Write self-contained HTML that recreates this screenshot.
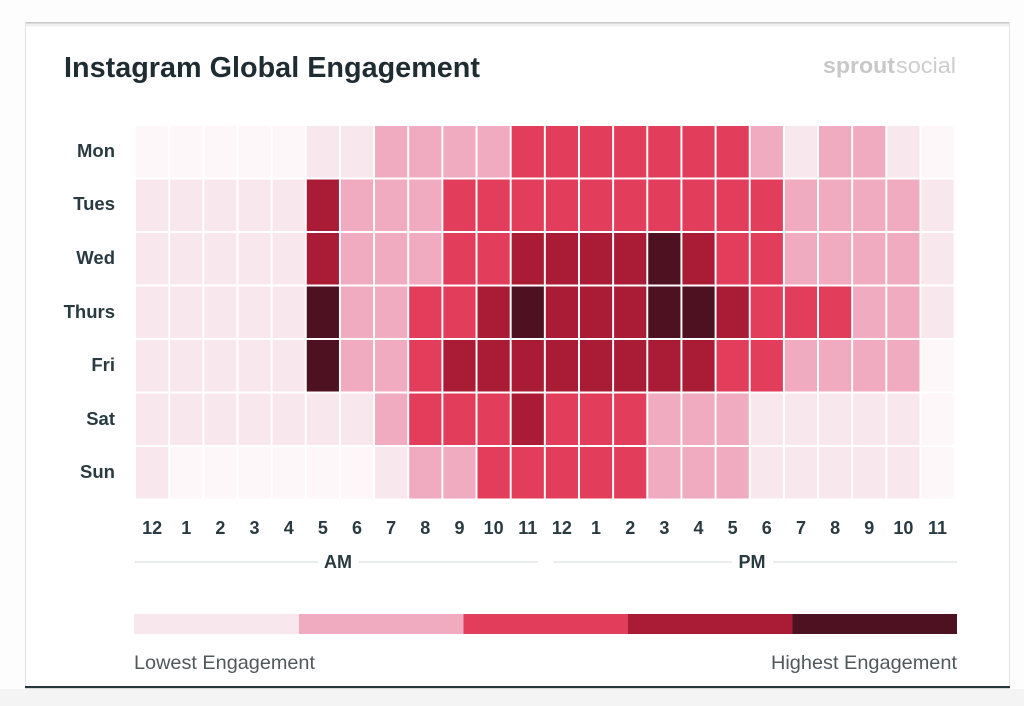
<!DOCTYPE html>
<html>
<head>
<meta charset="utf-8">
<style>
  html,body{margin:0;padding:0;background:#ffffff;}
  body{width:1024px;height:706px;overflow:hidden;}
  svg{display:block;}
  .l0{fill:#fdf7fa;}
  .l1{fill:#f8e8ee;}
  .l2{fill:#f0abc0;}
  .l3{fill:#e23e5c;}
  .l4{fill:#aa1c36;}
  .l5{fill:#4e1121;}
  .day{font-family:"Liberation Sans",sans-serif;font-weight:bold;font-size:18.5px;fill:#2a3a41;text-anchor:end;}
  .tick{font-family:"Liberation Sans",sans-serif;font-weight:bold;font-size:18px;fill:#2a3a41;text-anchor:middle;}
</style>
</head>
<body>
<svg width="1024" height="706" viewBox="0 0 1024 706" xmlns="http://www.w3.org/2000/svg">
  <rect x="0" y="0" width="1024" height="706" fill="#fdfdfd"/>
  <rect x="0" y="689" width="1024" height="17" fill="#f4f4f4"/>
  <!-- card -->
  <rect x="25" y="22" width="985" height="666" fill="#ffffff"/>
  <rect x="25" y="22" width="985" height="1.5" fill="#c9c9c9"/>
  <rect x="25" y="23.5" width="985" height="3" fill="#f0f0f0"/>
  <rect x="25" y="22" width="1" height="666" fill="#e3e3e3"/>
  <rect x="1009" y="22" width="1" height="666" fill="#e3e3e3"/>
  <rect x="25" y="686" width="985" height="2.2" fill="#25363d"/>

  <!-- title -->
  <text x="64" y="77" font-family="'Liberation Sans',sans-serif" font-weight="bold" font-size="29" fill="#1f2c32" textLength="416" lengthAdjust="spacingAndGlyphs">Instagram Global Engagement</text>
  <text x="823" y="73" font-family="'Liberation Sans',sans-serif" font-weight="bold" font-size="22" fill="#c8c8c8" textLength="72" lengthAdjust="spacingAndGlyphs">sprout</text>
  <text x="896" y="73" font-family="'Liberation Sans',sans-serif" font-size="22" fill="#cdcdcd" textLength="60" lengthAdjust="spacingAndGlyphs">social</text>

  <!-- day labels -->
  <text class="day" x="115" y="157">Mon</text>
  <text class="day" x="115" y="210">Tues</text>
  <text class="day" x="115" y="264">Wed</text>
  <text class="day" x="115" y="318">Thurs</text>
  <text class="day" x="115" y="371">Fri</text>
  <text class="day" x="115" y="425">Sat</text>
  <text class="day" x="115" y="478">Sun</text>

  <!-- heatmap -->
  <!-- Mon: 0 0 0 0 0 1 1 2 2 2 2 3 3 3 3 3 3 3 2 1 2 2 1 0 -->
  <g transform="translate(0,126)">
    <rect x="136" width="32.2" height="51.5" class="l0"/>
    <rect x="170.15" width="32.2" height="51.5" class="l0"/>
    <rect x="204.3" width="32.2" height="51.5" class="l0"/>
    <rect x="238.45" width="32.2" height="51.5" class="l0"/>
    <rect x="272.6" width="32.2" height="51.5" class="l0"/>
    <rect x="306.75" width="32.2" height="51.5" class="l1"/>
    <rect x="340.9" width="32.2" height="51.5" class="l1"/>
    <rect x="375.05" width="32.2" height="51.5" class="l2"/>
    <rect x="409.2" width="32.2" height="51.5" class="l2"/>
    <rect x="443.35" width="32.2" height="51.5" class="l2"/>
    <rect x="477.5" width="32.2" height="51.5" class="l2"/>
    <rect x="511.65" width="32.2" height="51.5" class="l3"/>
    <rect x="545.8" width="32.2" height="51.5" class="l3"/>
    <rect x="579.95" width="32.2" height="51.5" class="l3"/>
    <rect x="614.1" width="32.2" height="51.5" class="l3"/>
    <rect x="648.25" width="32.2" height="51.5" class="l3"/>
    <rect x="682.4" width="32.2" height="51.5" class="l3"/>
    <rect x="716.55" width="32.2" height="51.5" class="l3"/>
    <rect x="750.7" width="32.2" height="51.5" class="l2"/>
    <rect x="784.85" width="32.2" height="51.5" class="l1"/>
    <rect x="819" width="32.2" height="51.5" class="l2"/>
    <rect x="853.15" width="32.2" height="51.5" class="l2"/>
    <rect x="887.3" width="32.2" height="51.5" class="l1"/>
    <rect x="921.45" width="32.2" height="51.5" class="l0"/>
  </g>
  <!-- Tue: 1 1 1 1 1 4 2 2 2 3 3 3 3 3 3 3 3 3 3 2 2 2 2 1 -->
  <g transform="translate(0,179.5)">
    <rect x="136" width="32.2" height="51.5" class="l1"/>
    <rect x="170.15" width="32.2" height="51.5" class="l1"/>
    <rect x="204.3" width="32.2" height="51.5" class="l1"/>
    <rect x="238.45" width="32.2" height="51.5" class="l1"/>
    <rect x="272.6" width="32.2" height="51.5" class="l1"/>
    <rect x="306.75" width="32.2" height="51.5" class="l4"/>
    <rect x="340.9" width="32.2" height="51.5" class="l2"/>
    <rect x="375.05" width="32.2" height="51.5" class="l2"/>
    <rect x="409.2" width="32.2" height="51.5" class="l2"/>
    <rect x="443.35" width="32.2" height="51.5" class="l3"/>
    <rect x="477.5" width="32.2" height="51.5" class="l3"/>
    <rect x="511.65" width="32.2" height="51.5" class="l3"/>
    <rect x="545.8" width="32.2" height="51.5" class="l3"/>
    <rect x="579.95" width="32.2" height="51.5" class="l3"/>
    <rect x="614.1" width="32.2" height="51.5" class="l3"/>
    <rect x="648.25" width="32.2" height="51.5" class="l3"/>
    <rect x="682.4" width="32.2" height="51.5" class="l3"/>
    <rect x="716.55" width="32.2" height="51.5" class="l3"/>
    <rect x="750.7" width="32.2" height="51.5" class="l3"/>
    <rect x="784.85" width="32.2" height="51.5" class="l2"/>
    <rect x="819" width="32.2" height="51.5" class="l2"/>
    <rect x="853.15" width="32.2" height="51.5" class="l2"/>
    <rect x="887.3" width="32.2" height="51.5" class="l2"/>
    <rect x="921.45" width="32.2" height="51.5" class="l1"/>
  </g>
  <!-- Wed: 1 1 1 1 1 4 2 2 2 3 3 4 4 4 4 5 4 3 3 2 2 2 2 1 -->
  <g transform="translate(0,233)">
    <rect x="136" width="32.2" height="51.5" class="l1"/>
    <rect x="170.15" width="32.2" height="51.5" class="l1"/>
    <rect x="204.3" width="32.2" height="51.5" class="l1"/>
    <rect x="238.45" width="32.2" height="51.5" class="l1"/>
    <rect x="272.6" width="32.2" height="51.5" class="l1"/>
    <rect x="306.75" width="32.2" height="51.5" class="l4"/>
    <rect x="340.9" width="32.2" height="51.5" class="l2"/>
    <rect x="375.05" width="32.2" height="51.5" class="l2"/>
    <rect x="409.2" width="32.2" height="51.5" class="l2"/>
    <rect x="443.35" width="32.2" height="51.5" class="l3"/>
    <rect x="477.5" width="32.2" height="51.5" class="l3"/>
    <rect x="511.65" width="32.2" height="51.5" class="l4"/>
    <rect x="545.8" width="32.2" height="51.5" class="l4"/>
    <rect x="579.95" width="32.2" height="51.5" class="l4"/>
    <rect x="614.1" width="32.2" height="51.5" class="l4"/>
    <rect x="648.25" width="32.2" height="51.5" class="l5"/>
    <rect x="682.4" width="32.2" height="51.5" class="l4"/>
    <rect x="716.55" width="32.2" height="51.5" class="l3"/>
    <rect x="750.7" width="32.2" height="51.5" class="l3"/>
    <rect x="784.85" width="32.2" height="51.5" class="l2"/>
    <rect x="819" width="32.2" height="51.5" class="l2"/>
    <rect x="853.15" width="32.2" height="51.5" class="l2"/>
    <rect x="887.3" width="32.2" height="51.5" class="l2"/>
    <rect x="921.45" width="32.2" height="51.5" class="l1"/>
  </g>
  <!-- Thu: 1 1 1 1 1 5 2 2 3 3 4 5 4 4 4 5 5 4 3 3 3 2 2 1 -->
  <g transform="translate(0,286.5)">
    <rect x="136" width="32.2" height="51.5" class="l1"/>
    <rect x="170.15" width="32.2" height="51.5" class="l1"/>
    <rect x="204.3" width="32.2" height="51.5" class="l1"/>
    <rect x="238.45" width="32.2" height="51.5" class="l1"/>
    <rect x="272.6" width="32.2" height="51.5" class="l1"/>
    <rect x="306.75" width="32.2" height="51.5" class="l5"/>
    <rect x="340.9" width="32.2" height="51.5" class="l2"/>
    <rect x="375.05" width="32.2" height="51.5" class="l2"/>
    <rect x="409.2" width="32.2" height="51.5" class="l3"/>
    <rect x="443.35" width="32.2" height="51.5" class="l3"/>
    <rect x="477.5" width="32.2" height="51.5" class="l4"/>
    <rect x="511.65" width="32.2" height="51.5" class="l5"/>
    <rect x="545.8" width="32.2" height="51.5" class="l4"/>
    <rect x="579.95" width="32.2" height="51.5" class="l4"/>
    <rect x="614.1" width="32.2" height="51.5" class="l4"/>
    <rect x="648.25" width="32.2" height="51.5" class="l5"/>
    <rect x="682.4" width="32.2" height="51.5" class="l5"/>
    <rect x="716.55" width="32.2" height="51.5" class="l4"/>
    <rect x="750.7" width="32.2" height="51.5" class="l3"/>
    <rect x="784.85" width="32.2" height="51.5" class="l3"/>
    <rect x="819" width="32.2" height="51.5" class="l3"/>
    <rect x="853.15" width="32.2" height="51.5" class="l2"/>
    <rect x="887.3" width="32.2" height="51.5" class="l2"/>
    <rect x="921.45" width="32.2" height="51.5" class="l1"/>
  </g>
  <!-- Fri: 1 1 1 1 1 5 2 2 3 4 4 4 4 4 4 4 4 3 3 2 2 2 2 0 -->
  <g transform="translate(0,340)">
    <rect x="136" width="32.2" height="51.5" class="l1"/>
    <rect x="170.15" width="32.2" height="51.5" class="l1"/>
    <rect x="204.3" width="32.2" height="51.5" class="l1"/>
    <rect x="238.45" width="32.2" height="51.5" class="l1"/>
    <rect x="272.6" width="32.2" height="51.5" class="l1"/>
    <rect x="306.75" width="32.2" height="51.5" class="l5"/>
    <rect x="340.9" width="32.2" height="51.5" class="l2"/>
    <rect x="375.05" width="32.2" height="51.5" class="l2"/>
    <rect x="409.2" width="32.2" height="51.5" class="l3"/>
    <rect x="443.35" width="32.2" height="51.5" class="l4"/>
    <rect x="477.5" width="32.2" height="51.5" class="l4"/>
    <rect x="511.65" width="32.2" height="51.5" class="l4"/>
    <rect x="545.8" width="32.2" height="51.5" class="l4"/>
    <rect x="579.95" width="32.2" height="51.5" class="l4"/>
    <rect x="614.1" width="32.2" height="51.5" class="l4"/>
    <rect x="648.25" width="32.2" height="51.5" class="l4"/>
    <rect x="682.4" width="32.2" height="51.5" class="l4"/>
    <rect x="716.55" width="32.2" height="51.5" class="l3"/>
    <rect x="750.7" width="32.2" height="51.5" class="l3"/>
    <rect x="784.85" width="32.2" height="51.5" class="l2"/>
    <rect x="819" width="32.2" height="51.5" class="l2"/>
    <rect x="853.15" width="32.2" height="51.5" class="l2"/>
    <rect x="887.3" width="32.2" height="51.5" class="l2"/>
    <rect x="921.45" width="32.2" height="51.5" class="l0"/>
  </g>
  <!-- Sat: 1 1 1 1 1 1 1 2 3 3 3 4 3 3 3 2 2 2 1 1 1 1 1 0 -->
  <g transform="translate(0,393.5)">
    <rect x="136" width="32.2" height="51.5" class="l1"/>
    <rect x="170.15" width="32.2" height="51.5" class="l1"/>
    <rect x="204.3" width="32.2" height="51.5" class="l1"/>
    <rect x="238.45" width="32.2" height="51.5" class="l1"/>
    <rect x="272.6" width="32.2" height="51.5" class="l1"/>
    <rect x="306.75" width="32.2" height="51.5" class="l1"/>
    <rect x="340.9" width="32.2" height="51.5" class="l1"/>
    <rect x="375.05" width="32.2" height="51.5" class="l2"/>
    <rect x="409.2" width="32.2" height="51.5" class="l3"/>
    <rect x="443.35" width="32.2" height="51.5" class="l3"/>
    <rect x="477.5" width="32.2" height="51.5" class="l3"/>
    <rect x="511.65" width="32.2" height="51.5" class="l4"/>
    <rect x="545.8" width="32.2" height="51.5" class="l3"/>
    <rect x="579.95" width="32.2" height="51.5" class="l3"/>
    <rect x="614.1" width="32.2" height="51.5" class="l3"/>
    <rect x="648.25" width="32.2" height="51.5" class="l2"/>
    <rect x="682.4" width="32.2" height="51.5" class="l2"/>
    <rect x="716.55" width="32.2" height="51.5" class="l2"/>
    <rect x="750.7" width="32.2" height="51.5" class="l1"/>
    <rect x="784.85" width="32.2" height="51.5" class="l1"/>
    <rect x="819" width="32.2" height="51.5" class="l1"/>
    <rect x="853.15" width="32.2" height="51.5" class="l1"/>
    <rect x="887.3" width="32.2" height="51.5" class="l1"/>
    <rect x="921.45" width="32.2" height="51.5" class="l0"/>
  </g>
  <!-- Sun: 1 0 0 0 0 0 0 1 2 2 3 3 3 3 3 2 2 2 1 1 1 1 1 0 -->
  <g transform="translate(0,447)">
    <rect x="136" width="32.2" height="51.5" class="l1"/>
    <rect x="170.15" width="32.2" height="51.5" class="l0"/>
    <rect x="204.3" width="32.2" height="51.5" class="l0"/>
    <rect x="238.45" width="32.2" height="51.5" class="l0"/>
    <rect x="272.6" width="32.2" height="51.5" class="l0"/>
    <rect x="306.75" width="32.2" height="51.5" class="l0"/>
    <rect x="340.9" width="32.2" height="51.5" class="l0"/>
    <rect x="375.05" width="32.2" height="51.5" class="l1"/>
    <rect x="409.2" width="32.2" height="51.5" class="l2"/>
    <rect x="443.35" width="32.2" height="51.5" class="l2"/>
    <rect x="477.5" width="32.2" height="51.5" class="l3"/>
    <rect x="511.65" width="32.2" height="51.5" class="l3"/>
    <rect x="545.8" width="32.2" height="51.5" class="l3"/>
    <rect x="579.95" width="32.2" height="51.5" class="l3"/>
    <rect x="614.1" width="32.2" height="51.5" class="l3"/>
    <rect x="648.25" width="32.2" height="51.5" class="l2"/>
    <rect x="682.4" width="32.2" height="51.5" class="l2"/>
    <rect x="716.55" width="32.2" height="51.5" class="l2"/>
    <rect x="750.7" width="32.2" height="51.5" class="l1"/>
    <rect x="784.85" width="32.2" height="51.5" class="l1"/>
    <rect x="819" width="32.2" height="51.5" class="l1"/>
    <rect x="853.15" width="32.2" height="51.5" class="l1"/>
    <rect x="887.3" width="32.2" height="51.5" class="l1"/>
    <rect x="921.45" width="32.2" height="51.5" class="l0"/>
  </g>

  <!-- hour ticks -->
  <g class="tick">
    <text x="152.1" y="534">12</text>
    <text x="186.25" y="534">1</text>
    <text x="220.4" y="534">2</text>
    <text x="254.55" y="534">3</text>
    <text x="288.7" y="534">4</text>
    <text x="322.85" y="534">5</text>
    <text x="357" y="534">6</text>
    <text x="391.15" y="534">7</text>
    <text x="425.3" y="534">8</text>
    <text x="459.45" y="534">9</text>
    <text x="493.6" y="534">10</text>
    <text x="527.75" y="534">11</text>
    <text x="561.9" y="534">12</text>
    <text x="596.05" y="534">1</text>
    <text x="630.2" y="534">2</text>
    <text x="664.35" y="534">3</text>
    <text x="698.5" y="534">4</text>
    <text x="732.65" y="534">5</text>
    <text x="766.8" y="534">6</text>
    <text x="800.95" y="534">7</text>
    <text x="835.1" y="534">8</text>
    <text x="869.25" y="534">9</text>
    <text x="903.4" y="534">10</text>
    <text x="937.55" y="534">11</text>
  </g>

  <!-- AM / PM -->
  <rect x="135" y="561" width="183" height="2" fill="#e9eded"/>
  <rect x="359" y="561" width="179" height="2" fill="#e9eded"/>
  <rect x="553" y="561" width="179" height="2" fill="#e9eded"/>
  <rect x="773" y="561" width="184" height="2" fill="#e9eded"/>
  <text class="tick" x="338" y="568">AM</text>
  <text class="tick" x="752" y="568">PM</text>

  <!-- legend -->
  <rect x="134" y="614" width="165" height="20" fill="#f8e8ee"/>
  <rect x="299" y="614" width="164.5" height="20" fill="#f0abc0"/>
  <rect x="463.5" y="614" width="164.5" height="20" fill="#e23e5c"/>
  <rect x="628" y="614" width="164.5" height="20" fill="#aa1c36"/>
  <rect x="792.5" y="614" width="164.5" height="20" fill="#4e1121"/>
  <text x="134" y="669" font-family="'Liberation Sans',sans-serif" font-size="19.5" fill="#51585c" textLength="181" lengthAdjust="spacingAndGlyphs">Lowest Engagement</text>
  <text x="771" y="669" font-family="'Liberation Sans',sans-serif" font-size="19.5" fill="#51585c" textLength="186" lengthAdjust="spacingAndGlyphs">Highest Engagement</text>
</svg>
</body>
</html>
